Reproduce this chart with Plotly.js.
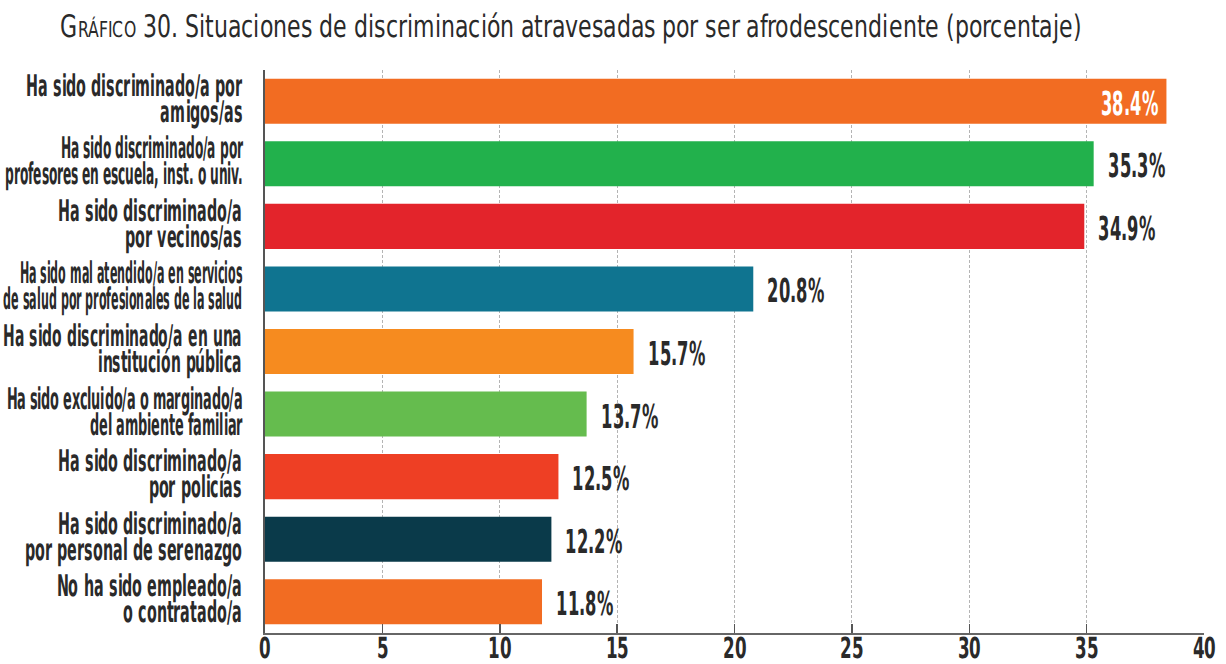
<!DOCTYPE html>
<html>
<head>
<meta charset="utf-8">
<script src="https://cdn.plot.ly/plotly-3.0.1.min.js"></script>
<style>
@font-face { font-family: 'NarrowX'; src: local('DejaVu Sans Condensed'), local('DejaVuSansCondensed'); font-weight: normal; }
@font-face { font-family: 'NarrowX'; src: local('DejaVu Sans Condensed Bold'), local('DejaVuSansCondensed-Bold'); font-weight: bold; }
html,body{margin:0;padding:0;background:#fff;}
#chart{width:1226px;height:664px;}
#chart text { font-stretch: condensed; }
</style>
</head>
<body>
<div id="chart"></div>
<script>
const categories = [
  "Ha sido discriminado/a por<br>amigos/as",
  "Ha sido discriminado/a por<br>profesores en escuela, inst. o univ.",
  "Ha sido discriminado/a<br>por vecinos/as",
  "Ha sido mal atendido/a en servicios<br>de salud por profesionales de la salud",
  "Ha sido discriminado/a en una<br>institución pública",
  "Ha sido excluido/a o marginado/a<br>del ambiente familiar",
  "Ha sido discriminado/a<br>por policías",
  "Ha sido discriminado/a<br>por personal de serenazgo",
  "No ha sido empleado/a<br>o contratado/a"
];
const values = [38.4, 35.3, 34.9, 20.8, 15.7, 13.7, 12.5, 12.2, 11.8];
const valueLabels = ["38.4%", "35.3%", "34.9%", "20.8%", "15.7%", "13.7%", "12.5%", "12.2%", "11.8%"];
const colors = ["#F26C22", "#22B14C", "#E3242B", "#0F7490", "#F68B1F", "#65BC4E", "#EE3F24", "#0A3A4A", "#F26C22"];
const xTicks = [0, 5, 10, 15, 20, 25, 30, 35, 40];

const FONT = 'NarrowX, "DejaVu Sans", sans-serif';
const TEXT_COLOR = '#2a2a2a';

const trace = {
  type: 'bar',
  orientation: 'h',
  x: values,
  y: categories,
  marker: {color: colors},
  width: 0.72,
  hoverinfo: 'skip'
};

const annotations = values.map((v, i) => i === 0 ? {
  x: v, y: categories[i], xref: 'x', yref: 'y',
  text: valueLabels[i], showarrow: false, xanchor: 'right', xshift: -6,
  font: {family: FONT, size: 33, color: '#ffffff', weight: 'bold'}
} : {
  x: v, y: categories[i], xref: 'x', yref: 'y',
  text: valueLabels[i], showarrow: false, xanchor: 'left', xshift: 12,
  font: {family: FONT, size: 33, color: TEXT_COLOR, weight: 'bold'}
});

const layout = {
  width: 1226, height: 664,
  margin: {l: 265, r: 22, t: 70, b: 31, pad: 0},
  paper_bgcolor: '#ffffff', plot_bgcolor: '#ffffff',
  showlegend: false,
  title: {
    text: 'G<span style="font-size:22px">RÁFICO</span> 30. Situaciones de discriminación atravesadas por ser afrodescendiente (porcentaje)',
    font: {family: FONT, size: 31, color: TEXT_COLOR},
    x: 0.4657, xanchor: 'center', xref: 'container', y: 0.96, yanchor: 'middle'
  },
  xaxis: {
    range: [0, 40], tickvals: xTicks, ticktext: xTicks.map(String),
    showgrid: true, gridcolor: '#b4b4b4', griddash: '3px,2px', gridwidth: 1,
    zeroline: false, showline: true, linecolor: '#666666', linewidth: 2,
    ticks: 'inside', ticklen: 9, tickwidth: 1.5, tickcolor: '#555555',
    tickfont: {family: FONT, size: 29, color: TEXT_COLOR, weight: 'bold'},
    fixedrange: true
  },
  yaxis: {
    autorange: 'reversed', showgrid: false, zeroline: false,
    showline: true, linecolor: '#555555', linewidth: 2,
    ticks: '', ticklabelstandoff: 15,
    tickfont: {family: FONT, size: 30, color: TEXT_COLOR, weight: 'bold'},
    fixedrange: true
  },
  annotations: annotations,
  bargap: 0.28
};

// horizontal condensing of text about a pivot (keeps the text tall and narrow like the original typeface)
function squeeze(el, s, pivot, dy, bbIn) {
  const bb = bbIn || el.getBBox();
  const px = pivot === 'end' ? bb.x + bb.width : pivot === 'start' ? bb.x : bb.x + bb.width / 2;
  const t = el.getAttribute('transform') || '';
  el.setAttribute('transform', t + ' translate(' + px + ',' + (dy || 0) + ') scale(' + s + ',1) translate(' + (-px) + ',0)');
}

function finish(gd) {
  const title = gd.querySelector('.gtitle');
  if (title) {
    const bb = title.getBBox();
    squeeze(title, 1025 / bb.width, 'middle', 0);
  }
  const left0 = gd.getBoundingClientRect().left;
  gd.querySelectorAll('.yaxislayer-above .ytick text').forEach(el => {
    const b0 = el.getBBox();
    const c0 = b0.y + b0.height / 2;
    el.querySelectorAll('tspan.line').forEach(ts => {
      const d = parseFloat(ts.getAttribute('dy') || '0');
      ts.setAttribute('dy', (d * 0.87 / 1.3) + 'em');
    });
    const b1 = el.getBBox();
    const c1 = b1.y + b1.height / 2;
    const s = Math.min(0.53, 240 / b1.width);
    squeeze(el, s, 'end', c0 - c1 - 3, b1);
    // make sure the rendered label stays inside the page on the left
    const r = el.getBoundingClientRect();
    const minLeft = left0 + 4;
    if (r.left < minLeft) {
      const extra = (r.right - minLeft) / r.width;
      squeeze(el, extra, 'end', 0, b1);
    }
  });
  gd.querySelectorAll('.xaxislayer-above .xtick text').forEach(el => {
    const r = el.getBoundingClientRect();
    squeeze(el, 0.64, 'middle', 631 - r.top);
  });
  gd.querySelectorAll('.annotation-text').forEach((el, i) => {
    squeeze(el, 0.55, i === 0 ? 'end' : 'start', 2);
  });
}

const gd = document.getElementById('chart');
Promise.all([
  document.fonts.load('bold 30px NarrowX', 'Ha sido 0123%'),
  document.fonts.load('30px NarrowX', 'Ha sido 0123%')
]).catch(() => null)
  .then(() => document.fonts.ready)
  .then(() => Plotly.newPlot(gd, [trace], layout, {displayModeBar: false, staticPlot: true}))
  .then(() => finish(gd));
</script>
</body>
</html>
